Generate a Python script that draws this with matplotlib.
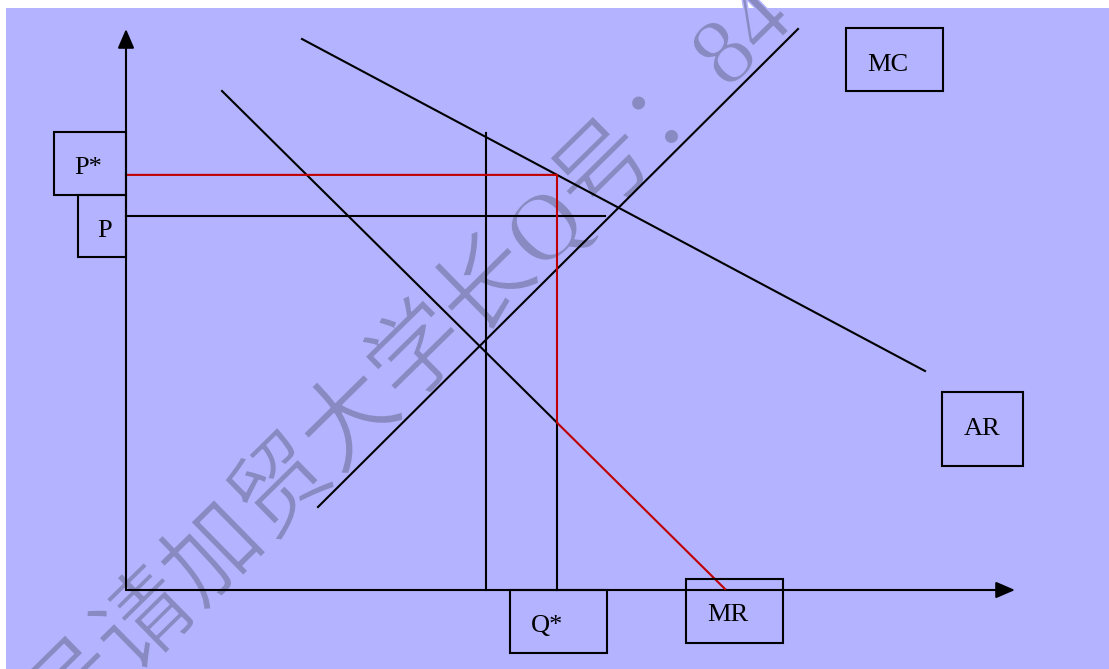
import numpy as np
import matplotlib
matplotlib.use("Agg")
import matplotlib.pyplot as plt
import matplotlib.patheffects as pe
from matplotlib.patches import Rectangle

# curves of the monopoly diagram (Q on x, price on y)
ar_q = [17.6, 79.9]
ar_p = [55.1, 21.9]
mr_q = [9.6, 59.9]
mr_p = [49.9, 0.1]
mc_q = [19.2, 67.2]
mc_p = [8.3, 56.1]

q_star = 43.1
p_level = 37.4
p_level_end = 47.9
q_other = 36.0
q_other_top = 45.7

axis_q_max = 88.9
axis_p_max = 56.1

labels = ["P*", "P", "Q*", "MR", "MC", "AR"]
# label boxes: q0, q1, p0, p1 and text anchor
boxes = [(-7.2, 0, 39.5, 45.8), (-4.8, 0, 33.3, 39.5), (38.4, 48.1, -6.3, 0),
         (56.0, 65.7, -5.3, 1.1), (72.0, 81.7, 49.9, 56.2), (81.6, 89.7, 12.4, 19.8)]
text_pos = [(-3.8, 41.6), (-2.1, 35.3), (42.1, -4.2), (60.2, -3.1), (76.2, 51.9), (85.6, 15.5)]

watermark = "号请加贸大学长Q号：84"

bg = "#B3B3FF"
red = "#C00000"
lw = 1.5

fig = plt.figure(figsize=[11.09, 6.69], dpi=100)
ax = fig.add_axes([0, 0, 1, 1])
ax.set_xlim(-12.6, 98.3)
ax.set_ylim(-7.9, 59.0)
ax.axis("off")

ax.add_patch(Rectangle((-12.0, -7.9), 110.3, 66.1, facecolor=bg, edgecolor="none", zorder=0))

# watermark, thinned with a background stroke on top
ax.text(-6.3, -15.4, watermark, rotation=44.5, rotation_mode="anchor", ha="left", va="baseline",
        fontsize=69, family=["Liberation Serif", "Noto Sans CJK SC"],
        color="#8A8AC2", zorder=1.5,
        path_effects=[pe.Normal(), pe.Stroke(linewidth=1.1, foreground=bg)])

# axes with arrows
arrow = dict(arrowstyle="-|>,head_length=0.58,head_width=0.25", mutation_scale=20,
             lw=lw, color="k", shrinkA=0, shrinkB=0)
ax.annotate("", xy=(0, axis_p_max), xytext=(0, 0), arrowprops=arrow, zorder=3)
ax.annotate("", xy=(axis_q_max, 0), xytext=(0, 0), arrowprops=arrow, zorder=3)

p_star = np.interp(q_star, ar_q, ar_p)
mr_at_q = np.interp(q_star, mr_q, mr_p)

ax.plot(ar_q, ar_p, color="k", lw=lw, zorder=3)
ax.plot(mc_q, mc_p, color="k", lw=lw, zorder=3)
ax.plot([mr_q[0], q_star], [mr_p[0], mr_at_q], color="k", lw=lw, zorder=3)
ax.plot([0, p_level_end], [p_level, p_level], color="k", lw=lw, zorder=3)
ax.plot([q_other, q_other], [0, q_other_top], color="k", lw=lw, zorder=3)
ax.plot([q_star, q_star], [0, mr_at_q], color="k", lw=lw, zorder=3)

ax.plot([0, q_star, q_star, mr_q[1]], [p_star, p_star, mr_at_q, mr_p[1]],
        color=red, lw=lw, zorder=4)

for lab, b, t in zip(labels, boxes, text_pos):
    ax.add_patch(Rectangle((b[0], b[2]), b[1] - b[0], b[3] - b[2], facecolor="none",
                           edgecolor="k", lw=lw, zorder=5))
    ax.text(t[0], t[1], lab, ha="center", va="baseline", fontsize=19,
            family="Liberation Serif", color="k", zorder=6)

fig.savefig("out.png", dpi=100)
